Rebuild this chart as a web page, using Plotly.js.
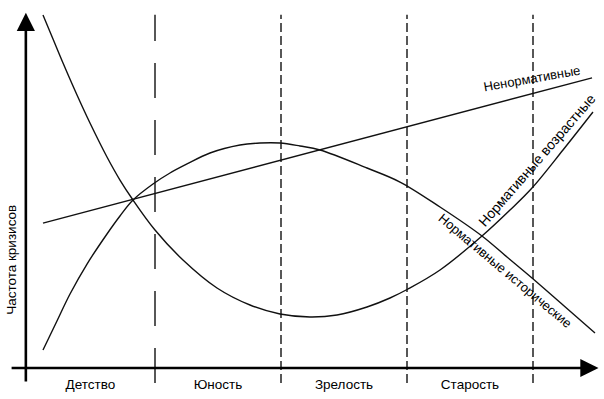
<!DOCTYPE html>
<html>
<head>
<meta charset="utf-8">
<script src="https://cdn.plot.ly/plotly-3.0.1.min.js"></script>
<style>html,body{margin:0;padding:0;background:#fff;}#chart{width:604px;height:399px;}</style>
</head>
<body>
<div id="chart"></div>
<script>
// Periods of life (x-axis categories)
const periods = ["Детство", "Юность", "Зрелость", "Старость"];
const periodCenters = [9.75, 30, 50, 70];
const periodBounds = [20, 40, 60, 80];

// Нормативные возрастные (U-shaped curve)
const ageX = [2.22, 3.81, 5.40, 7.62, 9.68, 12.38, 14.44, 16.51, 20.0, 24.44, 29.84, 35.08, 39.84, 44.60, 48.89, 53.65, 57.30, 60.16, 65.24, 71.90, 76.35, 79.84, 84.76, 89.52];
const ageY = [100.86, 94.0, 87.14, 78.0, 70.0, 60.29, 53.71, 48.0, 39.43, 30.86, 22.86, 18.0, 15.43, 14.57, 15.14, 17.43, 20.0, 22.57, 28.0, 37.71, 45.14, 51.43, 62.29, 73.14];

// Нормативные исторические (hump-shaped curve)
const histX = [2.22, 4.44, 6.51, 9.21, 12.38, 14.44, 16.51, 19.68, 22.38, 25.08, 28.73, 33.49, 36.67, 39.84, 43.02, 46.19, 53.65, 58.89, 65.24, 71.90, 75.87, 79.84, 84.76, 89.84];
const histY = [5.14, 13.43, 21.14, 29.71, 38.29, 43.43, 48.0, 52.57, 55.71, 58.29, 61.43, 63.71, 64.29, 64.29, 63.43, 62.29, 57.14, 53.14, 46.0, 37.71, 31.71, 25.71, 18.0, 10.0];

// Ненормативные (straight line)
const nonX = [2.22, 89.37];
const nonY = [41.4, 82.9];

const labels = {
  non: "Ненормативные",
  age: "Нормативные возрастные",
  hist: "Нормативные исторические",
  yTitle: "Частота кризисов"
};

const FONT = "Liberation Sans, Arial, sans-serif";
const lineStyle = {color: "#111", width: 1.4};

const traces = [
  {x: ageX, y: ageY, mode: "lines", line: Object.assign({shape: "spline", smoothing: 1}, lineStyle), hoverinfo: "skip"},
  {x: histX, y: histY, mode: "lines", line: Object.assign({shape: "spline", smoothing: 1}, lineStyle), hoverinfo: "skip"},
  {x: nonX, y: nonY, mode: "lines", line: lineStyle, hoverinfo: "skip"}
];

const yMin = -6, yMax = 102.29;
const shapes = periodBounds.map((b, i) => ({
  type: "line", xref: "x", yref: "y", x0: b, x1: b, y0: -4.3, y1: 100.9,
  line: {color: "#111", width: 1.4, dash: i === 0 ? "35px,22px" : "9px,4px"}
}));

const annotations = [
  // y axis with arrow
  {x: -0.5, y: 101.5, ax: -0.5, ay: -4.3, xref: "x", yref: "y", axref: "x", ayref: "y",
   text: "", showarrow: true, arrowhead: 2, arrowsize: 1.4, arrowwidth: 2.6, arrowcolor: "#000", standoff: 0},
  // x axis with arrow
  {x: 90.4, y: 0, ax: -3.0, ay: 0, xref: "x", yref: "y", axref: "x", ayref: "y",
   text: "", showarrow: true, arrowhead: 2, arrowsize: 1.4, arrowwidth: 2.6, arrowcolor: "#000", standoff: 0},
  {x: 79.84, y: 82.6, xref: "x", yref: "y", text: labels.non, showarrow: false, textangle: -10,
   font: {family: FONT, size: 13, color: "#000"}},
  {x: 80.63, y: 59.4, xref: "x", yref: "y", text: labels.age, showarrow: false, textangle: -49,
   font: {family: FONT, size: 14, color: "#000"}},
  {x: 75.56, y: 28.0, xref: "x", yref: "y", text: labels.hist, showarrow: false, textangle: 40,
   font: {family: FONT, size: 13, color: "#000"}},
  {x: -2.7, y: 30.9, xref: "x", yref: "y", text: labels.yTitle, showarrow: false, textangle: -90,
   font: {family: FONT, size: 13.5, color: "#000"}}
];

const layout = {
  width: 604, height: 399,
  margin: {l: 10, r: 4, t: 10, b: 10},
  paper_bgcolor: "#fff", plot_bgcolor: "#fff",
  showlegend: false,
  xaxis: {
    range: [-3.016, 90.635], showgrid: false, zeroline: false, showline: false,
    anchor: "free", position: (0 - yMin) / (yMax - yMin),
    tickvals: periodCenters, ticktext: periods, ticks: "", ticklabelstandoff: 6,
    tickfont: {family: FONT, size: 13.5, color: "#000"}, fixedrange: true
  },
  yaxis: {
    range: [yMin, yMax], showgrid: false, zeroline: false, showline: false,
    showticklabels: false, ticks: "", fixedrange: true
  },
  shapes: shapes,
  annotations: annotations
};

Plotly.newPlot("chart", traces, layout, {displayModeBar: false, staticPlot: true});
</script>
</body>
</html>
